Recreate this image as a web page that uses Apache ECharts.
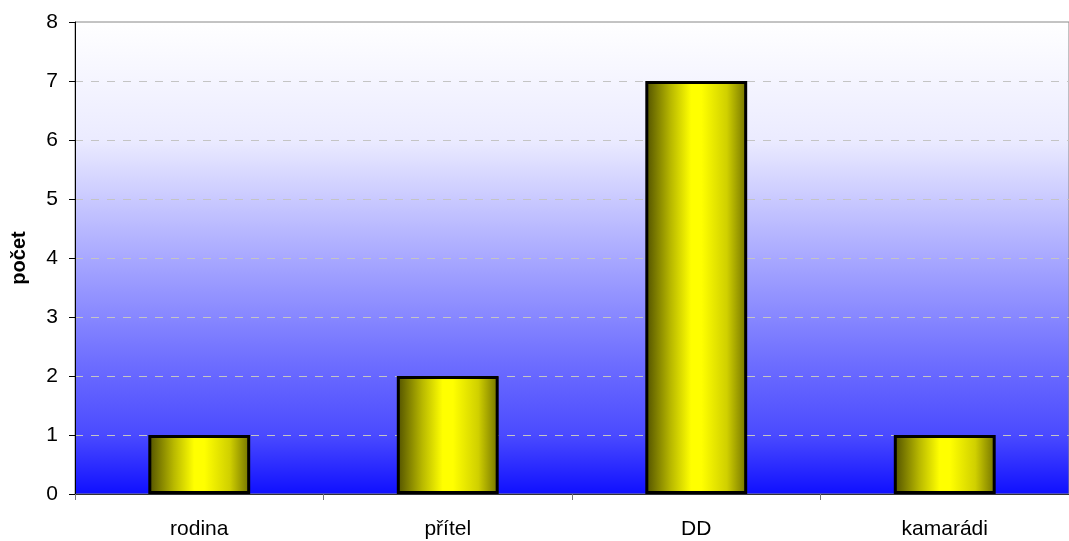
<!DOCTYPE html>
<html><head><meta charset="utf-8">
<script src="https://cdn.jsdelivr.net/npm/echarts@6/dist/echarts.min.js"></script>
<style>html,body{margin:0;padding:0;background:#fff}#c{width:1069px;height:541px}</style>
</head><body><div id="c"></div>
<script>
const categories = ['rodina', 'přítel', 'DD', 'kamarádi'];
const counts = [1, 2, 7, 1];
const yTicks = [0, 1, 2, 3, 4, 5, 6, 7, 8];
const yAxisName = 'počet';

const chart = echarts.init(document.getElementById('c'));
const barGrad = new echarts.graphic.LinearGradient(0, 0, 1, 0, [
  {offset: 0, color: '#4f4f00'},
  {offset: 0.25, color: '#b8b800'},
  {offset: 0.45, color: '#ffff00'},
  {offset: 0.55, color: '#ffff00'},
  {offset: 0.8, color: '#d0d000'},
  {offset: 1, color: '#707000'}
]);
const bgGrad = new echarts.graphic.LinearGradient(0, 0, 0, 1, [
  {offset: 0, color: '#ffffff'},
  {offset: 0.25, color: '#ebebff'},
  {offset: 0.5, color: '#a8a8ff'},
  {offset: 0.72, color: '#6e6eff'},
  {offset: 0.875, color: '#4a4aff'},
  {offset: 1, color: '#0f0fff'}
]);
chart.setOption({
  animation: false,
  textStyle: {fontFamily: 'Liberation Sans'},
  grid: {left: 75, right: 0, top: 22, bottom: 47, show: true, backgroundColor: bgGrad, borderColor: '#888', borderWidth: 1},
  xAxis: {
    type: 'category', data: categories,
    axisLine: {lineStyle: {color: '#333', width: 1}},
    axisTick: {show: true, length: 6, lineStyle: {color: '#777'}},
    axisLabel: {color: '#000', fontSize: 21, fontFamily: 'Liberation Sans', margin: 25}
  },
  yAxis: {
    type: 'value', min: yTicks[0], max: yTicks[yTicks.length - 1], interval: 1,
    name: yAxisName, nameLocation: 'middle', nameGap: 46, nameRotate: 90,
    nameTextStyle: {fontWeight: 'bold', fontSize: 20, color: '#000', fontFamily: 'Liberation Sans'},
    axisLine: {show: true, lineStyle: {color: '#000', width: 1}},
    axisTick: {show: true, length: 6, lineStyle: {color: '#000'}},
    axisLabel: {color: '#000', fontSize: 21, fontFamily: 'Liberation Sans', margin: 17},
    splitLine: {show: true, showMinLine: false, showMaxLine: false, lineStyle: {color: '#c4c4c4', type: [8, 8], width: 1}}
  },
  series: [{
    type: 'bar', data: counts, barWidth: '41%',
    itemStyle: {color: barGrad, borderColor: '#000', borderWidth: 3}
  }]
});
</script></body></html>
